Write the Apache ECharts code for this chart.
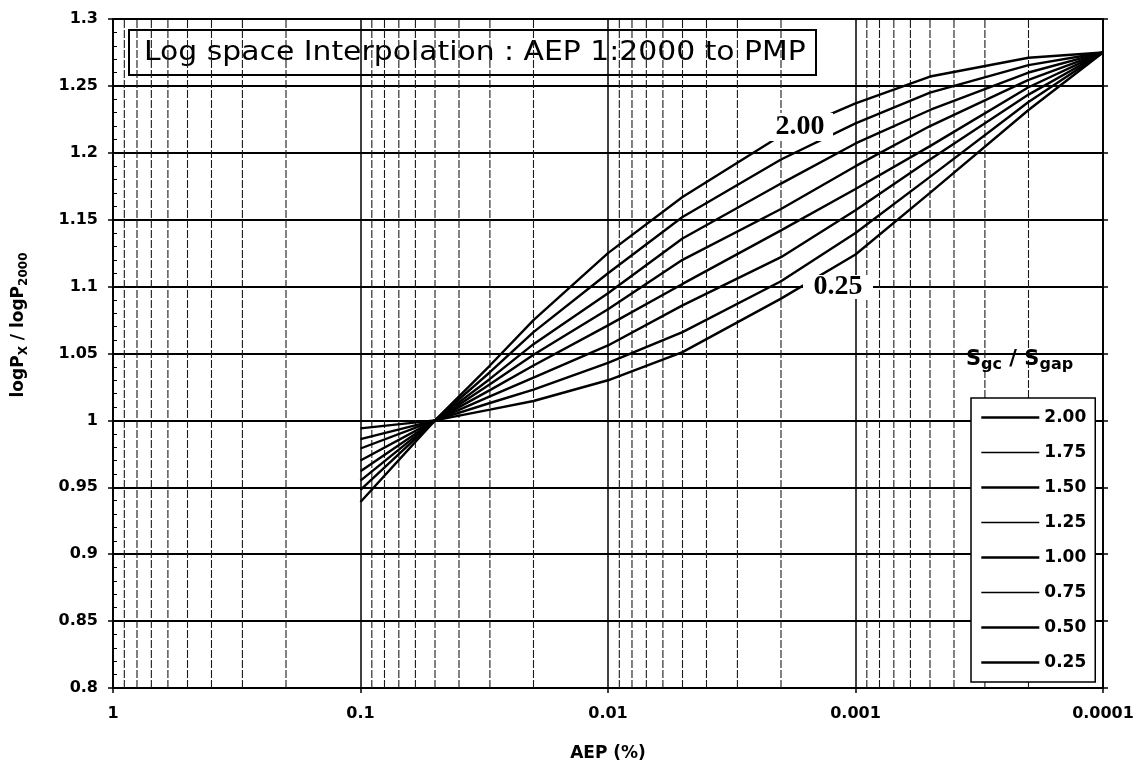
<!DOCTYPE html>
<html><head><meta charset="utf-8">
<script src="https://cdn.jsdelivr.net/npm/echarts@6/dist/echarts.min.js"></script>
<style>html,body{margin:0;padding:0;background:#fff}#c{width:1148px;height:778px}</style>
</head><body><div id="c"></div>
<script>
// ---- data ----
const aep = [0.1, 0.05, 0.03, 0.02, 0.01, 0.005, 0.002, 0.001, 0.0005, 0.0002, 0.0001];
const ratioNames = ['2.00', '1.75', '1.50', '1.25', '1.00', '0.75', '0.50', '0.25'];
const r200 = [0.939, 1.000, 1.041, 1.075, 1.125, 1.167, 1.213, 1.237, 1.257, 1.271, 1.275];
const r175 = [0.948, 1.000, 1.036, 1.066, 1.110, 1.152, 1.195, 1.222, 1.245, 1.2655, 1.275];
const r150 = [0.955, 1.000, 1.031, 1.057, 1.095, 1.136, 1.177, 1.207, 1.232, 1.260, 1.275];
const r125 = [0.962, 1.000, 1.027, 1.049, 1.083, 1.120, 1.158, 1.190, 1.220, 1.2545, 1.275];
const r100 = [0.970, 1.000, 1.0226, 1.041, 1.071, 1.102, 1.142, 1.173, 1.205, 1.249, 1.275];
const r075 = [0.979, 1.000, 1.018, 1.032, 1.056, 1.086, 1.122, 1.157, 1.195, 1.2435, 1.275];
const r050 = [0.986, 1.000, 1.013, 1.023, 1.043, 1.066, 1.104, 1.140, 1.182, 1.238, 1.275];
const r025 = [0.994, 1.000, 1.008, 1.0145, 1.030, 1.051, 1.091, 1.124, 1.170, 1.232, 1.275];
const xTickLabels = ['1', '0.1', '0.01', '0.001', '0.0001'];
const yTickLabels = ['0.8', '0.85', '0.9', '0.95', '1', '1.05', '1.1', '1.15', '1.2', '1.25', '1.3'];
const minorDecades = [0.1, 0.01, 0.001, 0.0001];
const minorMultipliers = [2, 3, 4, 5, 6, 7, 8, 9];
const curveLabelTop = {name: '2.00', x: 0.001675, y: 1.2193};
const curveLabelBottom = {name: '0.25', x: 0.001177, y: 1.0997};
const titleText = 'Log space Interpolation : AEP 1:2000 to PMP';

// ---- chart ----
const curves = [r200, r175, r150, r125, r100, r075, r050, r025];
const legendWidths = [2.6, 1.6, 2.6, 1.6, 2.6, 1.4, 2.6, 2.6];
const minorVals = minorDecades.flatMap(d => minorMultipliers.map(m => d * m));
const minorGridData = minorVals.flatMap(v => [[v, 0.8], [v, 1.3], [v, '-']]);
const FONT = 'DejaVu Sans';

function labelMark(lbl, size) {
  return {
    z: 10, silent: true, symbol: 'rect', symbolSize: size,
    itemStyle: {color: '#fff', borderWidth: 0},
    label: {show: true, position: 'inside', formatter: '{b}', color: '#000',
      fontFamily: 'Liberation Serif', fontWeight: 'bold', fontSize: 28},
    data: [{name: lbl.name, coord: [lbl.x, lbl.y]}]
  };
}

const series = [{
  name: 'minor', type: 'line', data: minorGridData, silent: true, z: 1,
  symbol: 'none', connectNulls: false,
  lineStyle: {color: '#1a1a1a', width: 1.1, type: [8, 2]},
  emphasis: {disabled: true}
}];
curves.forEach((vals, i) => {
  const s = {
    name: ratioNames[i], type: 'line', symbol: 'none', smooth: false, z: 3,
    data: aep.map((x, j) => [x, vals[j]]),
    lineStyle: {color: '#000', width: 2.4},
    itemStyle: {color: '#000'}
  };
  if (i === 0) s.markPoint = labelMark(curveLabelTop, [66, 28]);
  if (i === 7) s.markPoint = labelMark(curveLabelBottom, [70, 24]);
  series.push(s);
});

const chart = echarts.init(document.getElementById('c'), null, {renderer: 'canvas'});
chart.setOption({
  animation: false,
  backgroundColor: '#fff',
  textStyle: {fontFamily: FONT, color: '#000'},
  title: [{
    text: '{b|S}{sub|gc}{b| / S}{sub|gap}',
    left: 966, top: 349, padding: 0,
    textStyle: {rich: {
      b: {fontFamily: FONT, fontWeight: 'bold', fontSize: 21, lineHeight: 21, color: '#000'},
      sub: {fontFamily: FONT, fontWeight: 'bold', fontSize: 16, lineHeight: 16, padding: [10, 0, 0, 0], color: '#000'}
    }}
  }],
  grid: {left: 113, right: 45, top: 19, bottom: 90, show: true, borderColor: '#000', borderWidth: 1.5, backgroundColor: 'transparent'},
  legend: {
    orient: 'vertical', left: 971, top: 398, padding: [11, 9, 11, 9],
    itemWidth: 58, itemHeight: 18, itemGap: 18,
    backgroundColor: '#fff', borderColor: '#000', borderWidth: 1.5,
    selectedMode: false,
    itemStyle: {color: 'rgba(0,0,0,0)', borderWidth: 0, opacity: 0},
    lineStyle: {color: '#000'},
    textStyle: {fontFamily: FONT, fontWeight: 'bold', fontSize: 17, color: '#000'},
    data: ratioNames.map((n, i) => ({name: n, lineStyle: {width: legendWidths[i], color: '#000'}}))
  },
  xAxis: {
    type: 'log', logBase: 10, min: 0.0001, max: 1, inverse: true,
    name: 'AEP (%)', nameLocation: 'middle', nameGap: 57,
    nameTextStyle: {fontFamily: FONT, fontWeight: 'bold', fontSize: 17, color: '#000'},
    axisLine: {show: true, lineStyle: {color: '#000', width: 1.5}},
    axisTick: {show: true, length: 5, lineStyle: {color: '#000', width: 1.5}},
    splitLine: {show: true, lineStyle: {color: '#000', width: 1.5}},
    axisLabel: {margin: 18, color: '#000', fontFamily: FONT, fontWeight: 'bold', fontSize: 16,
      formatter: v => xTickLabels[Math.round(-Math.log10(v))]}
  },
  yAxis: [{
    type: 'value', min: 0.8, max: 1.3, interval: 0.05,
    axisLine: {show: true, lineStyle: {color: '#000', width: 1.5}},
    axisTick: {show: true, length: 5, lineStyle: {color: '#000', width: 1.5}},
    minorTick: {show: true, splitNumber: 5, length: -4, lineStyle: {color: '#000', width: 1}},
    splitLine: {show: true, lineStyle: {color: '#000', width: 2}},
    axisLabel: {margin: 15, color: '#000', fontFamily: FONT, fontWeight: 'bold', fontSize: 16,
      formatter: v => yTickLabels[Math.round((v - 0.8) / 0.05)]}
  }, {
    type: 'value', min: 0.8, max: 1.3, interval: 0.05, position: 'right',
    axisLine: {show: true, lineStyle: {color: '#000', width: 1.5}},
    axisTick: {show: true, length: 5, lineStyle: {color: '#000', width: 1.5}},
    splitLine: {show: false}, axisLabel: {show: false}
  }],
  graphic: [{
    type: 'group', left: 128, top: 29, z: 100,
    children: [{
      type: 'rect', shape: {x: 0, y: 0, width: 687, height: 45},
      style: {fill: '#fff', stroke: '#000', lineWidth: 2}
    }, {
      type: 'text', x: 15, y: 23, scaleX: 1.147,
      style: {text: titleText, fill: '#000', font: '26px "DejaVu Sans"', verticalAlign: 'middle', align: 'left'}
    }]
  }, {
    type: 'text', x: 19, y: 325, rotation: Math.PI / 2,
    style: {
      text: '{n|logP}{s|X}{n| / logP}{s|2000}',
      align: 'center', verticalAlign: 'middle', fill: '#000',
      rich: {
        n: {fontFamily: FONT, fontWeight: 'bold', fontSize: 17, lineHeight: 17, fill: '#000'},
        s: {fontFamily: FONT, fontWeight: 'bold', fontSize: 12, lineHeight: 12, padding: [10, 0, 0, 0], fill: '#000'}
      }
    }
  }],
  series: series
});
</script>
</body></html>
